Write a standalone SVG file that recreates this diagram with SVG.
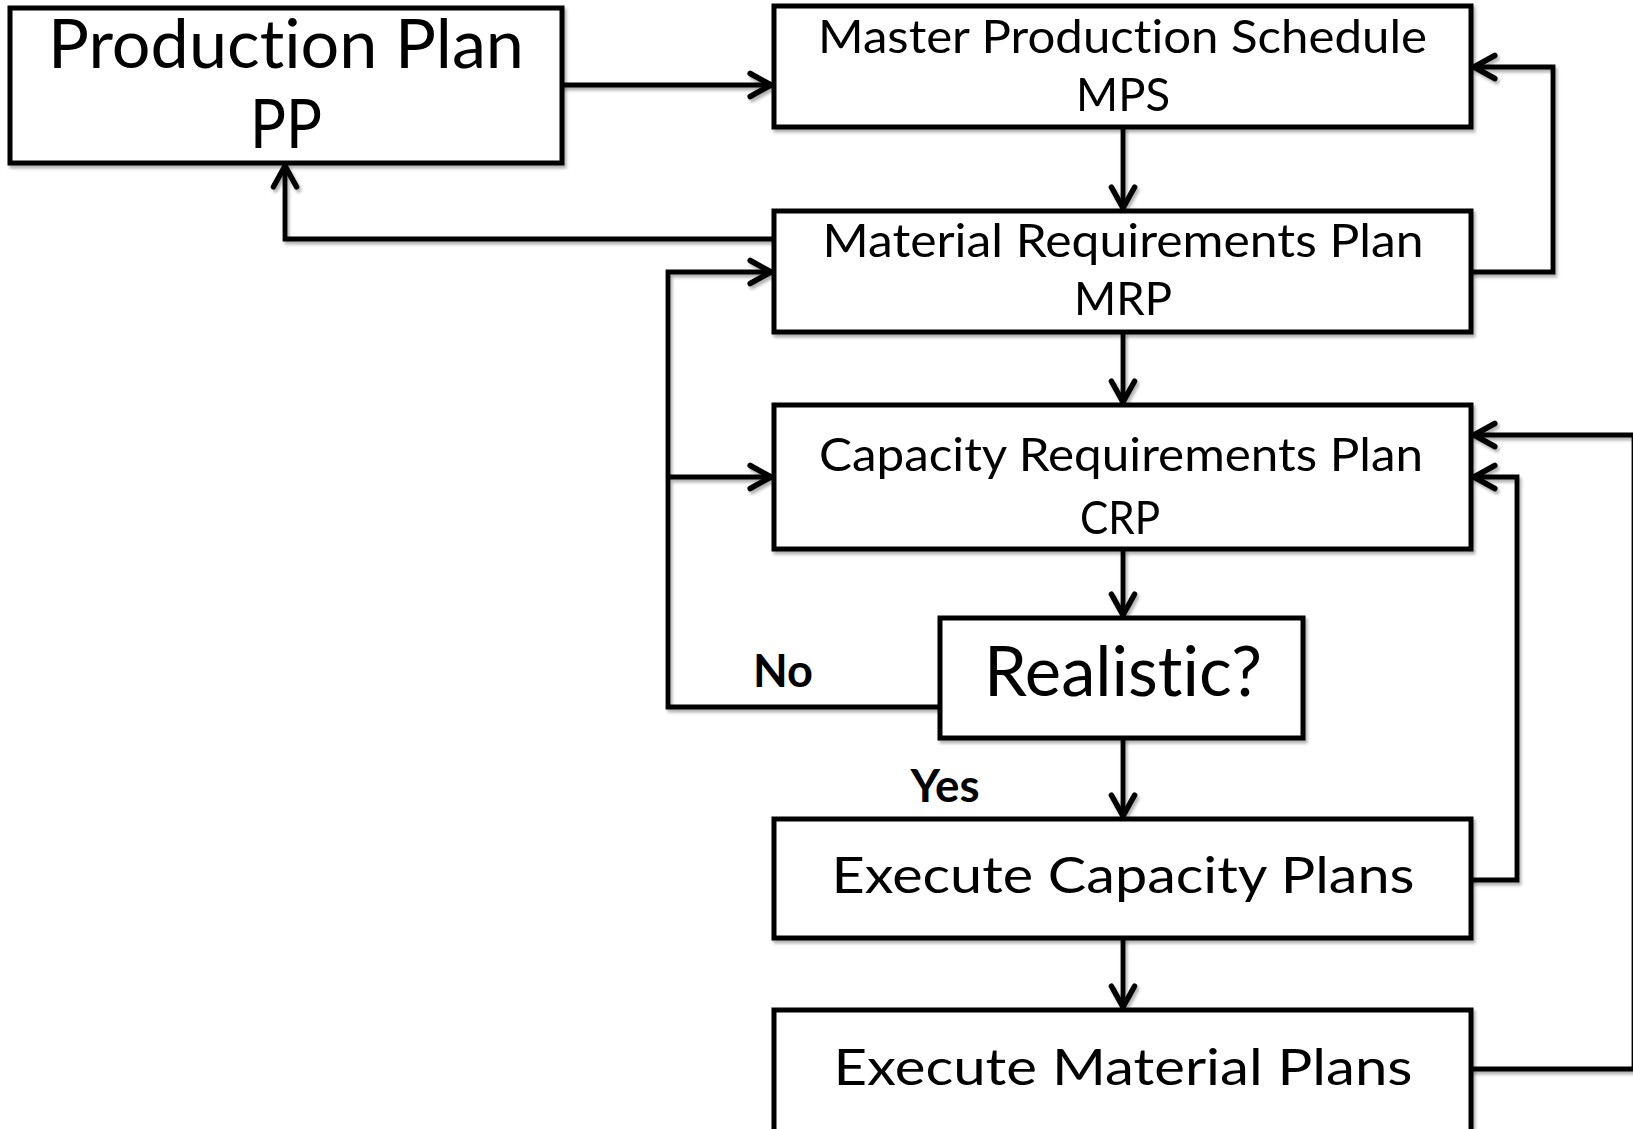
<svg xmlns="http://www.w3.org/2000/svg" width="1633" height="1129" viewBox="0 0 1633 1129">
<style>
.box{fill:#fff;stroke:#000;stroke-width:5}
.ln{fill:none;stroke:#000;stroke-width:4.8;stroke-linejoin:miter}
.t{font-family:Lato,"Open Sans","Liberation Sans",sans-serif;fill:#000;text-anchor:middle;font-variant-ligatures:none}
.b{font-family:Lato,"Open Sans","Liberation Sans",sans-serif;font-weight:bold;fill:#000;text-anchor:middle;font-variant-ligatures:none}
</style>
<defs>
<filter id="sh" x="-5%" y="-5%" width="110%" height="120%">
<feDropShadow dx="2" dy="3" stdDeviation="1.5" flood-color="#000" flood-opacity="0.3"/>
</filter>
<marker id="ar" markerUnits="userSpaceOnUse" markerWidth="30" markerHeight="30" viewBox="-22 -13 26 26" refX="0" refY="0" orient="auto">
<path d="M-18,-10 L0,0 L-18,10" fill="none" stroke="#000" stroke-width="4.8" stroke-linecap="round" stroke-linejoin="miter"/>
</marker>
</defs>
<rect width="1633" height="1129" fill="#fff"/>

<g id="connectors" filter="url(#sh)">
<path class="ln" d="M562,85 H771" marker-end="url(#ar)"/>
<path class="ln" d="M1123,127 V208" marker-end="url(#ar)"/>
<path class="ln" d="M774,239 H285 V166" marker-end="url(#ar)"/>
<path class="ln" d="M1471,272 H1553 V67 H1474" marker-end="url(#ar)"/>
<path class="ln" d="M1123,332 V402" marker-end="url(#ar)"/>
<path class="ln" d="M1123,549 V615" marker-end="url(#ar)"/>
<path class="ln" d="M1123,738 V816" marker-end="url(#ar)"/>
<path class="ln" d="M940,707 H668 V272 H771" marker-end="url(#ar)"/>
<path class="ln" d="M668,477 H771" marker-end="url(#ar)"/>
<path class="ln" d="M1471,880 H1517 V477 H1474" marker-end="url(#ar)"/>
<path class="ln" d="M1123,938 V1007" marker-end="url(#ar)"/>
<path class="ln" d="M1471,1069 H1634 V435 H1474" marker-end="url(#ar)"/>
</g>

<g id="pp" filter="url(#sh)">
<rect class="box" x="10" y="8" width="552" height="155"/>
<text class="t" x="286" y="68" font-size="68" textLength="476" lengthAdjust="spacingAndGlyphs">Production Plan</text>
<text class="t" x="286" y="148" font-size="68" textLength="72" lengthAdjust="spacingAndGlyphs">PP</text>
</g>

<g id="mps" filter="url(#sh)">
<rect class="box" x="774" y="6" width="697" height="121"/>
<text class="t" x="1122.5" y="53" font-size="46" textLength="609" lengthAdjust="spacingAndGlyphs">Master Production Schedule</text>
<text class="t" x="1123" y="111" font-size="46" textLength="94" lengthAdjust="spacingAndGlyphs">MPS</text>
</g>

<g id="mrp" filter="url(#sh)">
<rect class="box" x="774" y="211" width="697" height="121"/>
<text class="t" x="1123" y="257" font-size="46" textLength="601" lengthAdjust="spacingAndGlyphs">Material Requirements Plan</text>
<text class="t" x="1123" y="315" font-size="46" textLength="98" lengthAdjust="spacingAndGlyphs">MRP</text>
</g>

<g id="crp" filter="url(#sh)">
<rect class="box" x="774" y="405" width="697" height="144"/>
<text class="t" x="1121" y="471" font-size="47" textLength="604" lengthAdjust="spacingAndGlyphs">Capacity  Requirements Plan</text>
<text class="t" x="1120" y="534" font-size="47" textLength="80" lengthAdjust="spacingAndGlyphs">CRP</text>
</g>

<g id="realistic" filter="url(#sh)">
<rect class="box" x="940" y="618" width="363" height="120"/>
<text class="t" x="1123" y="696" font-size="70" textLength="278" lengthAdjust="spacingAndGlyphs">Realistic?</text>
</g>

<g id="label-no">
<text class="b" x="783" y="687" font-size="46" textLength="60" lengthAdjust="spacingAndGlyphs">No</text>
</g>
<g id="label-yes">
<text class="b" x="945" y="802" font-size="46" textLength="69" lengthAdjust="spacingAndGlyphs">Yes</text>
</g>

<g id="exec-capacity" filter="url(#sh)">
<rect class="box" x="774" y="819" width="697" height="119"/>
<text class="t" x="1123" y="893" font-size="51" textLength="583" lengthAdjust="spacingAndGlyphs">Execute Capacity Plans</text>
</g>

<g id="exec-material" filter="url(#sh)">
<rect class="box" x="774" y="1010" width="697" height="140"/>
<text class="t" x="1123" y="1085" font-size="51" textLength="579" lengthAdjust="spacingAndGlyphs">Execute Material Plans</text>
</g>
</svg>
